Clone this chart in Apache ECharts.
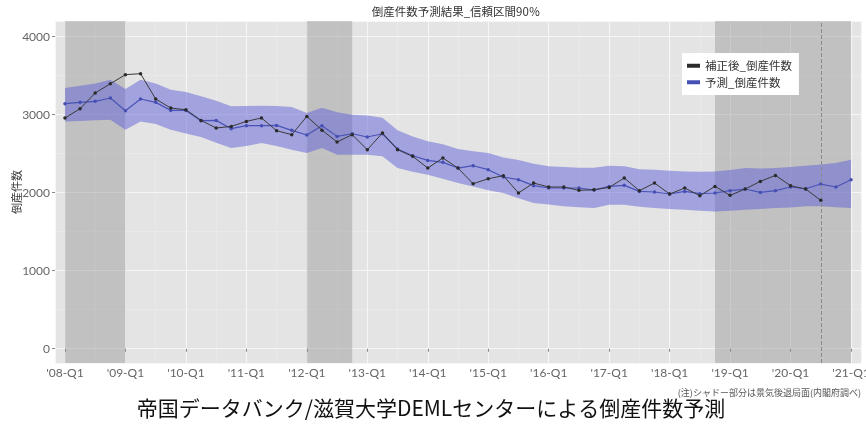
<!DOCTYPE html>
<html><head><meta charset="utf-8">
<script src="https://cdn.jsdelivr.net/npm/echarts@6/dist/echarts.min.js"></script>
<style>html,body{margin:0;padding:0;background:#fff}#c{width:866px;height:428px}</style>
</head><body><div id="c"></div>
<script>
const quarters = ['08-Q1','08-Q2','08-Q3','08-Q4','09-Q1','09-Q2','09-Q3','09-Q4',
  '10-Q1','10-Q2','10-Q3','10-Q4','11-Q1','11-Q2','11-Q3','11-Q4',
  '12-Q1','12-Q2','12-Q3','12-Q4','13-Q1','13-Q2','13-Q3','13-Q4',
  '14-Q1','14-Q2','14-Q3','14-Q4','15-Q1','15-Q2','15-Q3','15-Q4',
  '16-Q1','16-Q2','16-Q3','16-Q4','17-Q1','17-Q2','17-Q3','17-Q4',
  '18-Q1','18-Q2','18-Q3','18-Q4','19-Q1','19-Q2','19-Q3','19-Q4',
  '20-Q1','20-Q2','20-Q3','20-Q4','21-Q1'];
const actual = [2958,3077,3278,3397,3513,3526,3201,3085,3064,2927,
  2829,2850,2914,2958,2795,2744,2978,2802,2650,2744,
  2551,2765,2551,2466,2316,2445,2316,2115,2179,2218,
  1996,2124,2073,2073,2030,2038,2068,2188,2026,2124,
  1983,2060,1962,2081,1966,2047,2145,2222,2090,2047,1902];
const forecast = [3141,3158,3171,3214,3051,3201,3158,3055,3055,2923,
  2927,2821,2859,2859,2863,2799,2740,2859,2722,2756,
  2714,2756,2560,2474,2414,2389,2316,2346,2295,2201,
  2167,2090,2060,2060,2060,2034,2081,2094,2017,2009,
  1983,2017,1987,1996,2026,2047,2004,2026,2073,2051,
  2111,2073,2167];
const upper = [3342,3370,3400,3449,3329,3449,3400,3321,3290,3235,
  3180,3107,3110,3115,3110,3098,3021,3090,3030,3000,
  2990,2960,2800,2720,2660,2620,2560,2530,2510,2450,
  2420,2370,2340,2330,2320,2320,2346,2340,2300,2295,
  2280,2273,2270,2273,2290,2316,2310,2316,2330,2345,
  2360,2380,2423];
const lower = [2914,2920,2930,2936,2808,2914,2880,2808,2760,2714,
  2640,2573,2600,2637,2600,2551,2510,2573,2487,2487,
  2487,2466,2316,2270,2231,2180,2124,2080,2030,1996,
  1930,1868,1850,1825,1815,1803,1846,1846,1820,1803,
  1790,1782,1770,1760,1770,1782,1790,1803,1810,1825,
  1825,1815,1803];
const recessions = [['08-Q1','09-Q1'],['12-Q1','12-Q4'],['18-Q4','21-Q1']];
const forecastStart = '20-Q3';
const seriesNames = ['補正後_倒産件数','予測_倒産件数'];
const chartTitle = '倒産件数予測結果_信頼区間90％';
const yName = '倒産件数';
const note = '(注)シャドー部分は景気後退局面(内閣府調べ)';
const caption = '帝国データバンク/滋賀大学DEMLセンターによる倒産件数予測';

const qx = q => 2000 + Number(q.slice(0,2)) + (Number(q.slice(4)) - 1) / 4;
const pairs = arr => arr.map((v, i) => [qx(quarters[i]), v]);
const FONT = '"Noto Sans CJK JP", "Noto Sans", sans-serif';
const LABEL_FONT = 'Lato, "Noto Sans", sans-serif';
const X_MIN = 2007.835, X_MAX = 2021.165, Y_MIN = -183, Y_MAX = 4201;

const chart = echarts.init(document.getElementById('c'), null, {renderer: 'canvas'});
chart.setOption({
  animation: false,
  backgroundColor: '#fff',
  textStyle: {fontFamily: FONT},
  grid: {left: 55, right: 5, top: 21, bottom: 65, show: true, backgroundColor: '#e4e4e4', borderWidth: 0,
    containLabel: false, outerBoundsMode: 'none'},
  legend: {
    data: seriesNames, orient: 'vertical', left: 682, top: 53,
    padding: [7, 7, 7, 5], backgroundColor: '#ffffff', itemGap: 5,
    itemWidth: 13, itemHeight: 4, icon: 'rect',
    textStyle: {fontSize: 11.5, color: '#333', fontFamily: FONT}
  },
  xAxis: [{
    type: 'value', min: X_MIN, max: X_MAX, splitNumber: 13, z: 1,
    axisLine: {show: false},
    axisTick: {show: true, length: 3, lineStyle: {color: '#888'}},
    axisLabel: {
      margin: 4, color: '#666', fontSize: 12, fontFamily: LABEL_FONT,
      showMinLabel: false, showMaxLabel: false,
      formatter: v => { const r = Math.round(v); if (Math.abs(v - r) > 1e-6) return ''; return "'" + String(r % 100).padStart(2, '0') + '-Q1'; }
    },
    splitLine: {show: true, lineStyle: {color: '#f6f6f6', width: 1.1}}
  }, {
    type: 'value', min: X_MIN, max: X_MAX, splitNumber: 26, z: 0,
    axisLine: {show: false}, axisTick: {show: false}, axisLabel: {show: false},
    splitLine: {show: true, lineStyle: {color: '#ececec', width: 0.6}}
  }],
  yAxis: [{
    type: 'value', min: Y_MIN, max: Y_MAX, splitNumber: 4, z: 1,
    name: yName, nameLocation: 'middle', nameGap: 33, nameMoveOverlap: false,
    nameTextStyle: {fontSize: 11, color: '#333', fontFamily: FONT},
    axisLine: {show: false},
    axisTick: {show: true, length: 3, lineStyle: {color: '#888'}},
    axisLabel: {margin: 5, color: '#666', fontSize: 12, fontFamily: LABEL_FONT, showMinLabel: false, showMaxLabel: false,
      formatter: v => String(Math.round(v))},
    splitLine: {show: true, lineStyle: {color: '#f6f6f6', width: 1.1}}
  }, {
    type: 'value', min: Y_MIN, max: Y_MAX, splitNumber: 8, z: 0,
    axisLine: {show: false}, axisTick: {show: false}, axisLabel: {show: false},
    splitLine: {show: true, lineStyle: {color: '#ececec', width: 0.6}}
  }],
  series: [
    {
      name: 'shade', type: 'line', data: pairs(lower),
      symbol: 'none', lineStyle: {width: 0, opacity: 0}, silent: true, z: 2,
      markArea: {
        silent: true,
        itemStyle: {color: 'rgba(140,140,140,0.4)'},
        data: recessions.map(r => [{xAxis: qx(r[0])}, {xAxis: qx(r[1])}])
      }
    },
    {
      name: 'band', type: 'custom', z: 3, silent: true,
      data: quarters.map((q, i) => [qx(q), lower[i], upper[i]]),
      encode: {x: 0, y: [1, 2]},
      renderItem: (params, api) => {
        if (params.dataIndex !== 0) return null;
        const top = [], bottom = [];
        for (let i = 0; i < quarters.length; i++) {
          top.push(api.coord([qx(quarters[i]), upper[i]]));
          bottom.push(api.coord([qx(quarters[i]), lower[i]]));
        }
        return {type: 'polygon', shape: {points: top.concat(bottom.reverse())},
          style: {fill: 'rgba(95,95,215,0.5)'}};
      }
    },
    {
      name: seriesNames[0], type: 'line', data: pairs(actual), z: 5,
      color: '#2b2b2b', symbol: 'circle', symbolSize: 3.5, showSymbol: true,
      lineStyle: {width: 1, color: '#3a3a3a'}, itemStyle: {color: '#2b2b2b'}
    },
    {
      name: seriesNames[1], type: 'line', data: pairs(forecast), z: 4,
      color: '#4650b4', symbol: 'circle', symbolSize: 3.5, showSymbol: true,
      lineStyle: {width: 1.2, color: '#4a54b6'}, itemStyle: {color: '#4650b4'},
      markLine: {
        silent: true, symbol: 'none', label: {show: false},
        lineStyle: {type: 'dashed', color: '#8a8a8a', width: 1},
        data: [{xAxis: qx(forecastStart)}]
      }
    }
  ],
  graphic: [
    {type: 'text', x: 456, y: 12, style: {text: chartTitle, fontSize: 11.5, fontFamily: FONT, fill: '#333', align: 'center', verticalAlign: 'middle'}},
    {type: 'text', x: 861, y: 393, style: {text: note, fontSize: 9, fontFamily: FONT, fill: '#555', align: 'right', verticalAlign: 'middle'}},
    {type: 'text', x: 431, y: 408, style: {text: caption, fontSize: 21, fontFamily: FONT, fill: '#111', align: 'center', verticalAlign: 'middle'}}
  ]
});
</script></body></html>
